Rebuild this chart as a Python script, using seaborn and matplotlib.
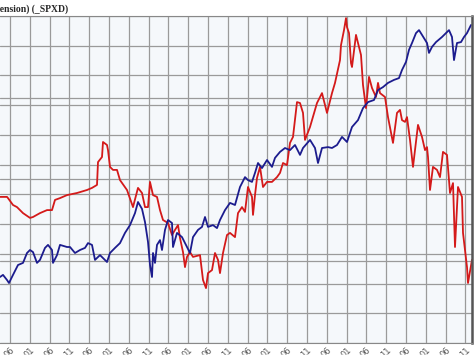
import numpy as np
import matplotlib
matplotlib.use('Agg')
import matplotlib.pyplot as plt
import seaborn as sns

# Valores (eixo x = indice de tempo, eixo y = nivel relativo)
red_t = [0, 7, 8, 13, 17, 23, 30, 33, 40, 47, 52, 55, 60, 67, 77, 87, 92, 97, 98, 102,
         103, 107, 108, 110, 113, 117, 120, 127, 133, 138, 142, 145, 148, 150, 153, 157, 160, 163, 168, 172,
         175, 178, 180, 183, 185, 187, 190, 193, 200, 203, 206, 208, 212, 215, 218, 220, 223, 227, 230, 235,
         238, 242, 245, 248, 252, 253, 255, 257, 260, 263, 267, 272, 277, 280, 283, 287, 290, 293, 297, 300,
         303, 305, 310, 317, 322, 327, 332, 335, 340, 341, 344, 346, 347, 349, 351, 352, 356, 358, 361, 363,
         366, 369, 372, 376, 378, 380, 385, 388, 393, 397, 400, 402, 405, 407, 410, 413, 418, 422, 425, 427,
         428, 430, 433, 437, 440, 443, 447, 450, 453, 455, 458, 462, 463, 465, 467, 468, 472]
red_v = [48.7, 48.7, 48.3, 46.0, 45.3, 43.3, 41.7, 42.0, 43.3, 44.3, 44.3, 47.7, 48.3, 49.3, 50.0, 51.0, 51.7, 52.7, 60.3, 62.0,
         67.0, 66.0, 64.3, 58.7, 57.7, 57.7, 54.3, 51.0, 45.3, 51.7, 50.0, 45.3, 45.3, 53.7, 49.3, 48.7, 44.3, 41.0, 40.0, 36.0,
         37.7, 39.3, 35.0, 30.3, 25.3, 28.7, 30.3, 28.7, 29.3, 21.0, 18.3, 23.3, 24.3, 30.0, 27.7, 23.3, 30.0, 36.0, 36.7, 35.3,
         43.3, 45.3, 43.7, 52.0, 48.7, 42.7, 49.3, 55.0, 58.7, 52.0, 53.7, 53.7, 55.3, 56.7, 60.0, 59.3, 66.7, 68.7, 80.3, 80.0,
         76.7, 67.7, 72.0, 80.0, 83.3, 76.7, 83.3, 86.7, 94.3, 99.3, 104.3, 108.3, 105.3, 103.3, 93.3, 92.0, 102.7, 100.0, 96.0, 86.0,
         78.3, 88.7, 85.0, 82.0, 86.7, 83.3, 82.0, 75.3, 66.7, 76.7, 77.7, 74.3, 73.7, 75.3, 67.7, 58.7, 72.7, 68.7, 64.3, 65.3,
         62.0, 51.0, 58.7, 57.7, 55.3, 63.7, 62.7, 50.0, 53.3, 32.0, 52.0, 48.7, 36.7, 31.0, 25.3, 20.0, 27.7]

blue_t = [0, 3, 7, 9, 13, 18, 23, 27, 30, 33, 37, 40, 45, 48, 52, 53, 57, 60, 67, 70,
          75, 80, 85, 88, 92, 95, 100, 107, 110, 115, 120, 125, 130, 135, 138, 142, 145, 148, 150, 152,
          153, 155, 157, 160, 162, 165, 168, 172, 173, 177, 182, 187, 190, 193, 198, 202, 205, 208, 213, 217,
          220, 225, 230, 235, 240, 245, 248, 252, 255, 258, 262, 267, 272, 275, 280, 285, 290, 295, 300, 303,
          310, 315, 318, 322, 328, 332, 337, 342, 347, 352, 358, 363, 368, 374, 378, 383, 388, 394, 399, 402,
          406, 409, 412, 416, 419, 422, 427, 429, 432, 436, 442, 449, 452, 454, 457, 461, 464, 467, 471]
blue_v = [22.0, 22.7, 21.0, 20.0, 22.7, 26.0, 26.7, 30.0, 31.0, 30.3, 26.7, 27.7, 31.7, 32.7, 31.0, 26.7, 29.3, 32.7, 32.0, 32.0,
          30.0, 31.0, 31.7, 33.3, 32.7, 27.7, 29.3, 27.0, 30.0, 31.7, 33.3, 36.7, 39.3, 43.3, 47.0, 44.7, 40.3, 33.7, 26.0, 22.0,
          30.0, 26.7, 32.7, 34.3, 31.0, 37.7, 41.0, 40.0, 32.0, 36.7, 35.3, 32.0, 30.0, 35.3, 37.7, 38.7, 42.0, 38.7, 39.3, 38.3,
          41.0, 44.3, 46.7, 46.0, 52.0, 55.3, 54.3, 53.7, 56.7, 60.0, 58.3, 61.0, 58.7, 61.7, 63.7, 65.0, 64.3, 66.0, 62.7, 65.0,
          67.7, 65.0, 60.0, 65.0, 65.3, 65.0, 66.0, 68.7, 67.0, 72.0, 74.3, 78.3, 80.3, 81.0, 84.3, 85.3, 86.7, 87.7, 88.3, 91.0,
          93.7, 97.7, 100.0, 103.3, 104.3, 102.7, 100.0, 96.7, 98.7, 100.3, 102.0, 104.3, 102.0, 94.3, 100.0, 100.3, 102.0, 103.3, 106.0]

tick_labels = ['06', '01', '06', '11'] * 6

sns.set_style('white')
fig = plt.figure(figsize=(4.74, 3.55), dpi=100)
ax = fig.add_axes([0, 12 / 355, 472 / 474, 327 / 355])
ax.set_facecolor('#f5f8fb')

sns.lineplot(x=red_t, y=red_v, color='#d41a1a', linewidth=1.3, estimator=None, sort=False, ax=ax)
sns.lineplot(x=blue_t, y=blue_v, color='#1c1c8e', linewidth=1.3, estimator=None, sort=False, ax=ax)

ax.set_xlim(0, 472)
ax.set_ylim(0, 109)

# grade
xt = np.arange(10, 472, 19.8)
ax.set_xticks(xt)
ax.set_xticklabels(tick_labels[:len(xt)], rotation=45, ha='right', rotation_mode='anchor',
                   fontsize=6, color='#555555')
yt = list(np.linspace(0, 109, 12)) + [27.3, 54.7, 81.7]
ax.set_yticks(yt)
ax.set_yticklabels([])
ax.tick_params(axis='both', length=0, pad=2)
ax.grid(True, color='#9a9a9a', linewidth=0.9)
ax.set_axisbelow(True)

ax.spines['left'].set_visible(False)
ax.spines['top'].set_color('#888888')
ax.spines['bottom'].set_color('#888888')
ax.spines['right'].set_color('#555555')
ax.spines['right'].set_linewidth(1.8)
ax.set_xlabel('')
ax.set_ylabel('')

fig.text(68 / 474, 1 - 9 / 355, '(Extension) (_SPXD)', ha='right', va='center',
         fontsize=6.9, fontweight='bold', family=['Liberation Serif', 'DejaVu Serif'])

fig.savefig('out.png', dpi=100)
